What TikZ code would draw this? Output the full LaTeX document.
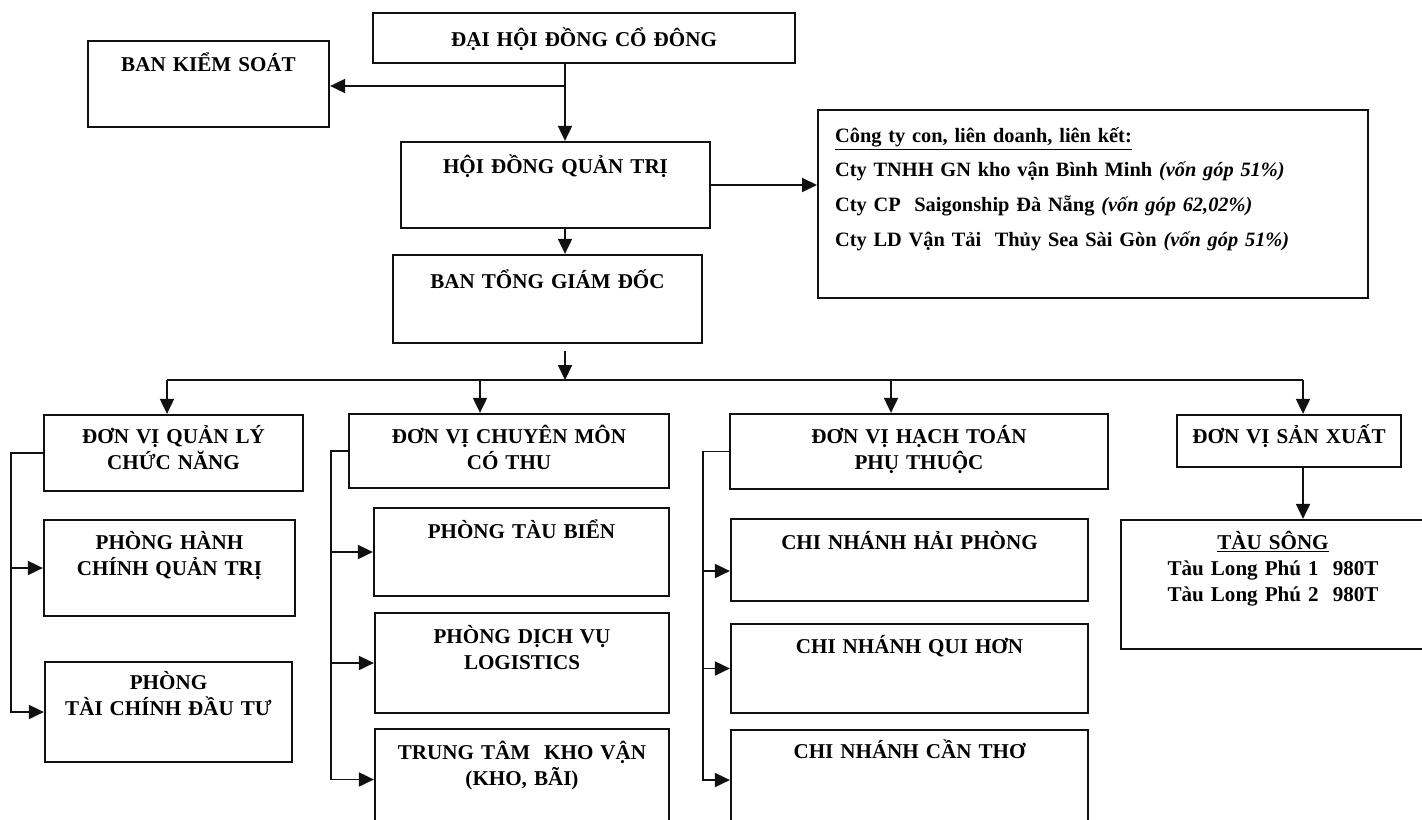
\documentclass[tikz,border=0pt]{standalone}
\usepackage{fontspec}
\setmainfont{Liberation Serif}
\usetikzlibrary{arrows.meta, positioning, calc}
\definecolor{cink}{HTML}{111111}
\tikzset{
  every picture/.style={line width=1pt},
  unit/.style n args={3}{draw=cink, line width=1.3pt, text width=#1, text height=#2, text depth=#3,
    inner sep=0pt, align=center, font=\bfseries\fontsize{12pt}{14.8pt}\selectfont},
  arr/.style={-{Triangle[length=0.3cm, width=0.28cm]}, draw=cink, line width=1.1pt},
  bus/.style={draw=cink, line width=1.1pt},
}

\begin{document}
\begin{tikzpicture}[x=0.02cm, y=-0.02cm]
  \useasboundingbox (0,0) rectangle (1422,819);
  % top level
  \node[unit={8.44cm}{0.66cm}{0.34cm}, anchor=base] (dhdcd) at (584,46) {ĐẠI HỘI ĐỒNG CỔ ĐÔNG};
  \node[unit={4.82cm}{0.60cm}{1.12cm}, anchor=base] (bks) at (208.5,71) {BAN KIỂM SOÁT};
  \node[unit={6.18cm}{0.62cm}{1.10cm}, anchor=base] (hdqt) at (555.5,173) {HỘI ĐỒNG QUẢN TRỊ};
  \node[unit={6.18cm}{0.66cm}{1.10cm}, anchor=base] (btgd) at (547.5,288) {BAN TỔNG GIÁM ĐỐC};
  \node[unit={10.32cm}{0.64cm}{3.12cm}, anchor=base west, align=left, inner xsep=0.34cm,
        font=\bfseries\fontsize{11.6pt}{19.9pt}\selectfont] (cty) at (817,142)
    {\underline{Công ty con, liên doanh, liên kết:}\\
     Cty TNHH GN kho vận Bình Minh \textit{(vốn góp 51\%)}\\
     Cty CP~ Saigonship Đà Nẵng \textit{(vốn góp 62,02\%)}\\
     Cty LD Vận Tải~ Thủy Sea Sài Gòn \textit{(vốn góp 51\%)}};
  % second level
  \node[unit={5.18cm}{0.56cm}{0.96cm}, anchor=base] (dvql) at (173.5,443) {ĐƠN VỊ QUẢN LÝ\\CHỨC NĂNG};
  \node[unit={6.40cm}{0.58cm}{0.90cm}, anchor=base] (dvcm) at (509,443) {ĐƠN VỊ CHUYÊN MÔN\\CÓ THU};
  \node[unit={7.56cm}{0.58cm}{0.92cm}, anchor=base] (dvht) at (919,443) {ĐƠN VỊ HẠCH TOÁN\\PHỤ THUỘC};
  \node[unit={4.48cm}{0.56cm}{0.48cm}, anchor=base] (dvsx) at (1289,443) {ĐƠN VỊ SẢN XUẤT};
  % departments
  \node[unit={5.02cm}{0.58cm}{1.34cm}, anchor=base] (phcqt) at (169.5,549) {PHÒNG HÀNH\\CHÍNH QUẢN TRỊ};
  \node[unit={4.94cm}{0.54cm}{1.46cm}, anchor=base] (ptcdt) at (168.5,689) {PHÒNG\\TÀI CHÍNH ĐẦU TƯ};
  \node[unit={5.90cm}{0.60cm}{1.16cm}, anchor=base] (ptb) at (521.5,538) {PHÒNG TÀU BIỂN};
  \node[unit={5.88cm}{0.60cm}{1.40cm}, anchor=base] (pdvl) at (522,643) {PHÒNG DỊCH VỤ\\LOGISTICS};
  \node[unit={5.88cm}{0.60cm}{1.42cm}, anchor=base] (ttkv) at (522,759) {TRUNG TÂM~ KHO VẬN\\(KHO, BÃI)};
  \node[unit={7.14cm}{0.60cm}{1.04cm}, anchor=base] (cnhp) at (909.5,549) {CHI NHÁNH HẢI PHÒNG};
  \node[unit={7.14cm}{0.58cm}{1.20cm}, anchor=base] (cnqh) at (909.5,653) {CHI NHÁNH QUI HƠN};
  \node[unit={7.14cm}{0.56cm}{1.44cm}, anchor=base] (cnct) at (909.5,758) {CHI NHÁNH CẦN THƠ};
  \node[unit={6.08cm}{0.58cm}{2.00cm}, anchor=base] (tausong) at (1273,549)
    {\underline{TÀU SÔNG}\\Tàu Long Phú 1~ 980T\\Tàu Long Phú 2~ 980T};
  % trunk and bus points
  \coordinate (trunk) at (565,380);
  \coordinate (bq) at (167,380);
  \coordinate (bc) at (480,380);
  \coordinate (bh) at (891,380);
  \coordinate (bs) at (1303,380);
  \coordinate (sq) at (11,0);
  \coordinate (sc) at (331,0);
  \coordinate (sh) at (703,0);
  % connectors
  \draw[arr] (dhdcd.south -| trunk) |- ([yshift=-0.04cm]bks.east);
  \draw[arr] (dhdcd.south -| trunk) -- (hdqt.north -| trunk);
  \draw[arr] (hdqt.east) -- (hdqt.east -| cty.west);
  \draw[arr] (hdqt.south -| trunk) -- (btgd.north -| trunk);
  \draw[arr] ([yshift=-0.14cm]btgd.south -| trunk) -- (trunk);
  \draw[bus] (bq) -- (bs);
  \draw[arr] (bq) -- (bq |- dvql.north);
  \draw[arr] (bc) -- (bc |- dvcm.north);
  \draw[arr] (bh) -- (bh |- dvht.north);
  \draw[arr] (bs) -- (bs |- dvsx.north);
  \draw[arr] (dvsx.south -| bs) -- (tausong.north -| bs);
  % side buses
  \draw[arr] (dvql.west) -| (sq |- phcqt.west) -- (phcqt.west);
  \draw[arr] (sq |- phcqt.west) |- (ptcdt.west);
  \draw[arr] (dvcm.west) -| (sc |- ptb.west) -- (ptb.west);
  \draw[arr] (sc |- ptb.west) |- (pdvl.west);
  \draw[arr] (sc |- pdvl.west) |- (ttkv.west);
  \draw[arr] (dvht.west) -| (sh |- cnhp.west) |- ([yshift=-0.22cm]cnhp.west);
  \draw[arr] (sh |- cnhp.west) |- (cnqh.west);
  \draw[arr] (sh |- cnqh.west) |- (cnct.west);
\end{tikzpicture}
\end{document}
